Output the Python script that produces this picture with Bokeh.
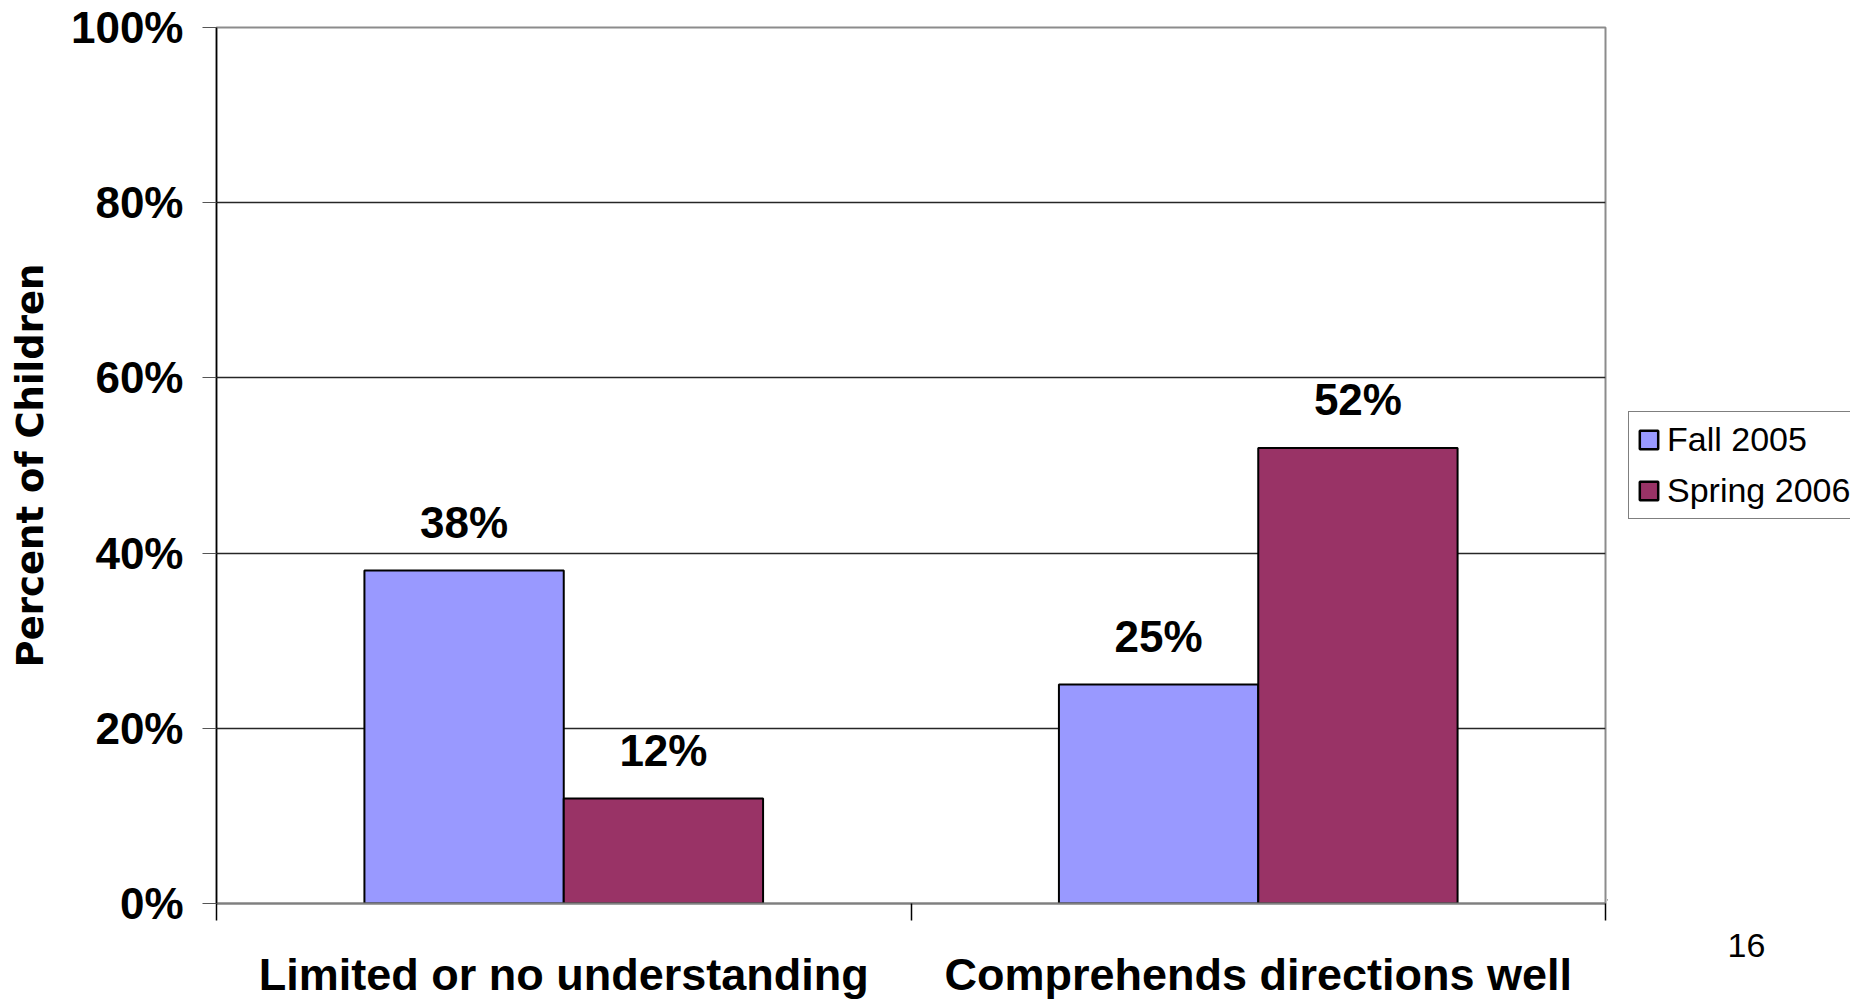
from bokeh.plotting import figure
from bokeh.layouts import row
from bokeh.models import (ColumnDataSource, FixedTicker, PrintfTickFormatter, Legend,
                          LegendItem, Title, Range1d)
from bokeh.embed import file_html
from bokeh.resources import INLINE
from bokeh.core.properties import value

categories = ["Limited or no understanding", "Comprehends directions well"]
series = ["Fall 2005", "Spring 2006"]
fall_2005 = [38, 25]
spring_2006 = [12, 52]
series_values = [fall_2005, spring_2006]
colors = ["#9999FF", "#993366"]
y_ticks = [0, 20, 40, 60, 80, 100]
page_number = "16"

FONT = "Liberation Sans"
bar_width = 0.287
offsets = [-bar_width / 2, bar_width / 2]

TOTAL_H = 999
p = figure(frame_width=1389, frame_height=876,
           x_range=Range1d(0, len(categories)), y_range=Range1d(0, 100),
           output_backend="svg", toolbar_location=None,
           min_border_left=216, min_border_right=2, min_border_top=27, min_border_bottom=96)

for i, (name, vals, color) in enumerate(zip(series, series_values, colors)):
    src = ColumnDataSource(dict(
        x=[j + 0.5 + offsets[i] for j in range(len(categories))],
        top=vals,
        label=[f"{v}%" for v in vals],
    ))
    p.vbar(x="x", top="top", bottom=0, width=bar_width, source=src,
           fill_color=color, line_color="black", line_width=2)
    p.text(x="x", y="top", text="label", source=src, text_align="center",
           text_baseline="alphabetic", y_offset=-48, text_font=value(FONT),
           text_font_style="bold", text_font_size="44px", text_color="black")

# grid / outline
p.xgrid.visible = False
p.ygrid.ticker = FixedTicker(ticks=y_ticks)
p.ygrid.grid_line_color = "#262626"
p.ygrid.grid_line_width = 1.5
p.outline_line_color = "#8c8c8c"
p.outline_line_width = 2

ya = p.yaxis[0]
ya.ticker = FixedTicker(ticks=y_ticks)
ya.formatter = PrintfTickFormatter(format="%d%%")
ya.axis_line_color = "black"
ya.axis_line_width = 1.5
ya.major_tick_out = 14
ya.major_tick_in = 0
ya.major_tick_line_color = "#555555"
ya.minor_tick_line_color = None
ya.major_label_standoff = 19
ya.major_label_text_font = FONT
ya.major_label_text_font_style = "bold"
ya.major_label_text_font_size = "44px"
ya.major_label_text_color = "black"
ya.axis_label = "Percent of Children"
ya.axis_label_text_font = "DejaVu Sans"
ya.axis_label_text_font_style = "bold"
ya.axis_label_text_font_size = "37px"
ya.axis_label_text_color = "black"
ya.axis_label_standoff = 16

xa = p.xaxis[0]
xa.ticker = FixedTicker(ticks=[j + 0.5 for j in range(len(categories))],
                        minor_ticks=list(range(len(categories) + 1)))
xa.major_label_overrides = {j + 0.5: c for j, c in enumerate(categories)}
xa.axis_line_color = "#7f7f7f"
xa.axis_line_width = 2
xa.major_tick_out = 0
xa.major_tick_in = 0
xa.minor_tick_out = 17
xa.minor_tick_in = 0
xa.minor_tick_line_color = "black"
xa.minor_tick_line_width = 1.5
xa.major_label_standoff = 28
xa.major_label_text_font = FONT
xa.major_label_text_font_style = "bold"
xa.major_label_text_font_size = "45px"
xa.major_label_text_color = "black"

# side panel holding the legend and the page number (frame aligned with main plot)
side_w = 243
q = figure(width=side_w, height=TOTAL_H, x_range=Range1d(0, 1), y_range=Range1d(0, 1),
           x_axis_type=None, y_axis_type=None, output_backend="svg", toolbar_location=None,
           min_border=0)
q.grid.visible = False
q.outline_line_color = None

proxies = []
for name, color in zip(series, colors):
    proxies.append(q.vbar(x="x", top="top", width=0, bottom=0,
                          source=ColumnDataSource(dict(x=[-5], top=[0])),
                          fill_color=color, line_color="black", line_width=2.5))

legend = Legend(items=[LegendItem(label=s, renderers=[r]) for s, r in zip(series, proxies)],
                location=(21, 381), orientation="vertical",
                border_line_color="black", border_line_width=1.2,
                background_fill_color="white", background_fill_alpha=1,
                label_text_font=FONT, label_text_font_size="34px", label_text_color="black",
                glyph_width=23, glyph_height=23, label_standoff=7,
                padding=8, spacing=12, margin=0)
q.add_layout(legend, "center")

q.add_layout(Title(text=page_number, align="left", offset=120, standoff=62,
                   text_font=FONT, text_font_size="34px", text_font_style="normal",
                   text_color="black"), "below")

layout = row(p, q, spacing=0)
open("out.html", "w").write(file_html(layout, INLINE))
